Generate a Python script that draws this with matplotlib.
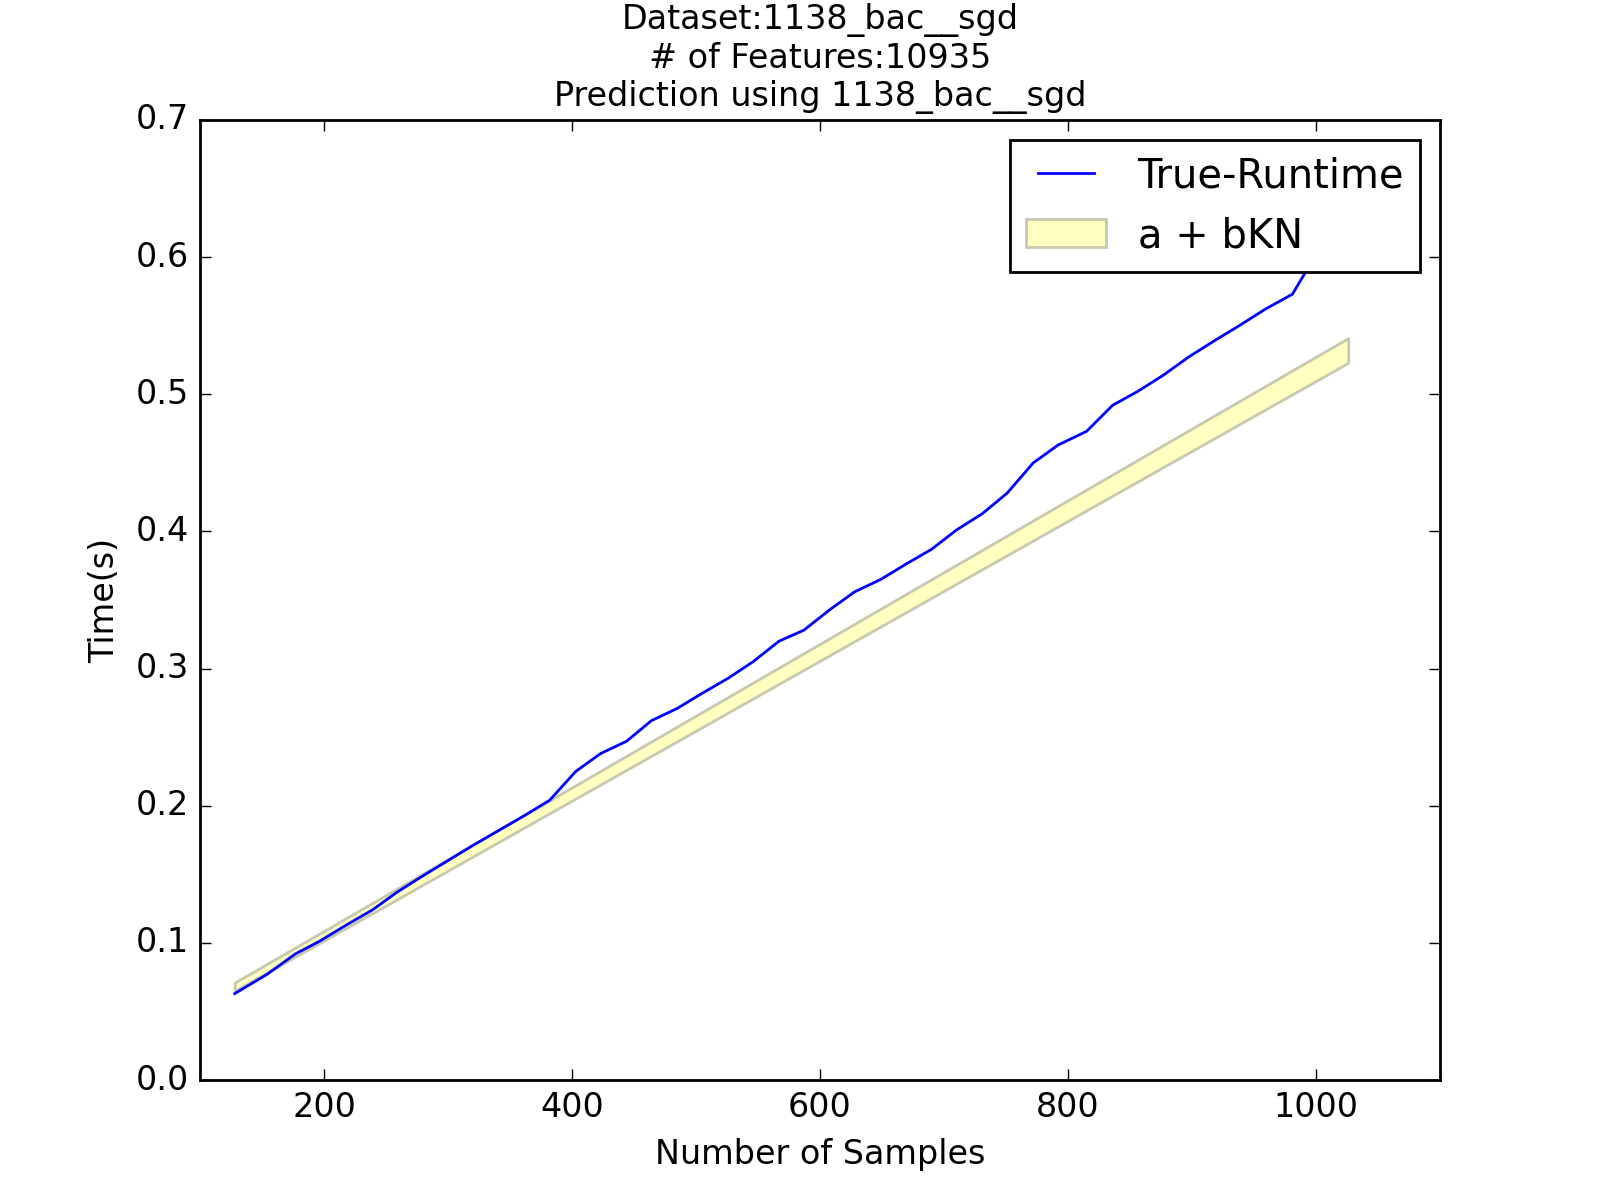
import matplotlib
matplotlib.use("Agg")
import matplotlib.pyplot as plt

plt.style.use('classic')

# sample sizes and measured runtimes
samples = [128, 154, 177, 196, 218, 239, 259, 280, 300, 320, 341, 362, 382, 403, 423,
           444, 464, 485, 505, 526, 546, 567, 587, 608, 628, 649, 669, 690, 710, 731,
           751, 772, 792, 815, 836, 856, 877, 897, 918, 938, 959, 981, 1002, 1026]
runtime = [0.063, 0.077, 0.092, 0.101, 0.113, 0.124, 0.137, 0.149, 0.160, 0.171, 0.182,
           0.193, 0.204, 0.225, 0.238, 0.247, 0.262, 0.271, 0.282, 0.293, 0.305, 0.320,
           0.328, 0.343, 0.356, 0.365, 0.376, 0.387, 0.401, 0.413, 0.428, 0.450, 0.463,
           0.473, 0.492, 0.502, 0.514, 0.527, 0.539, 0.550, 0.562, 0.573, 0.605, 0.600]

# a + bKN prediction band (linear, endpoints)
band_x = [128, 1026]
band_lo = [0.065, 0.523]
band_hi = [0.071, 0.541]

fig, ax = plt.subplots(figsize=(8, 6), dpi=200)
fig.patch.set_facecolor('white')
ax.plot(samples, runtime, color='blue', label='True-Runtime')
ax.fill_between(band_x, band_lo, band_hi, facecolor='#ffffc0', edgecolor='#c8c8b0',
                linewidth=1, label='a + bKN')
ax.set_xlim(100, 1100)
ax.set_ylim(0, 0.7)
ax.set_xlabel('Number of Samples')
ax.set_ylabel('Time(s)')
ax.set_title('Dataset:1138_bac__sgd\n# of Features:10935\nPrediction using 1138_bac__sgd',
             fontsize=12)
ax.legend(loc='upper right')
plt.savefig('out.png', dpi=200, facecolor='white')
